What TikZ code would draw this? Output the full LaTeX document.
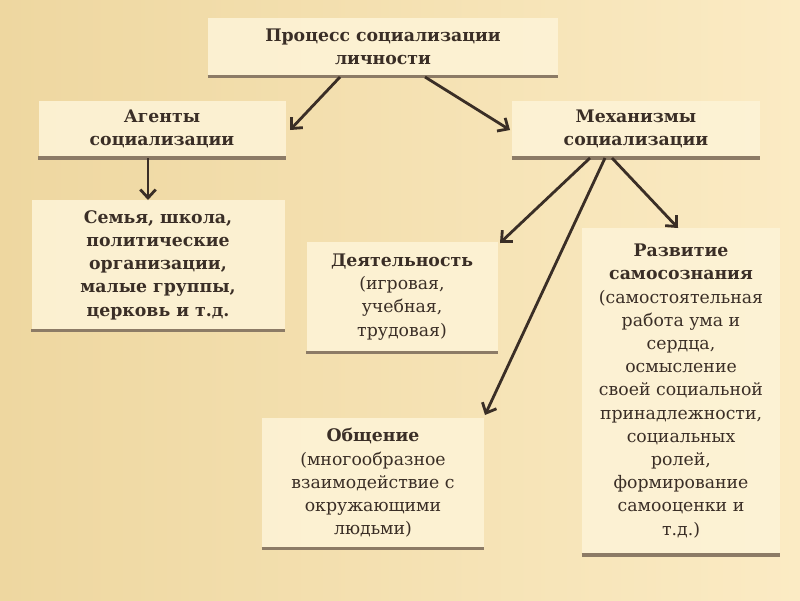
\documentclass[tikz,border=0pt]{standalone}
\usepackage{fontspec}
\setmainfont{DejaVu Serif}
\usetikzlibrary{arrows.meta}
\definecolor{paper}{HTML}{FDF3D6}
\definecolor{bgdark}{HTML}{EED7A0}
\definecolor{bglight}{HTML}{FBEBC4}
\definecolor{rule}{HTML}{8C7B66}
\definecolor{ink}{HTML}{3A2E26}
\tikzset{
  box/.style={fill=paper, fill opacity=0.9, text opacity=1, text=ink, align=center,
    inner sep=2pt, font=\fontsize{12.3}{16.5}\selectfont},
  link/.style={draw=ink, line width=2pt, -{Straight Barb[length=6pt,width=11pt]}},
}
\newcommand{\underrule}[1]{\draw[rule, line width=2.5pt] (#1.south west) -- (#1.south east);}
\begin{document}
\begin{tikzpicture}[x=0.025cm,y=-0.025cm]
  \shade[left color=bgdark, right color=bglight] (0,0) rectangle (800,600);
  \useasboundingbox (0,0) rectangle (800,600);

	\node[box, minimum width=350*0.025cm, minimum height=58*0.025cm] (proc) at (383,47) {\textbf{Процесс социализации}\\\textbf{личности}};
	\node[box, minimum width=247*0.025cm, minimum height=57*0.025cm] (agent) at (162,129) {\textbf{Агенты}\\\textbf{социализации}};
	\node[box, minimum width=248*0.025cm, minimum height=57*0.025cm] (mech) at (636,129) {\textbf{Механизмы}\\\textbf{социализации}};
	\node[box, minimum width=253*0.025cm, minimum height=130*0.025cm] (fam) at (158,265) {\textbf{Семья, школа,}\\\textbf{политические}\\\textbf{организации,}\\\textbf{малые группы,}\\\textbf{церковь и т.д.}};
	\node[box, minimum width=191*0.025cm, minimum height=110*0.025cm] (act) at (402,297) {\textbf{Деятельность}\\(игровая,\\учебная,\\трудовая)};
	\node[box, minimum width=198*0.025cm, minimum height=327*0.025cm] (self) at (681,391) {\textbf{Развитие}\\\textbf{самосознания}\\(самостоятельная\\работа ума и\\сердца,\\осмысление\\своей социальной\\принадлежности,\\социальных\\ролей,\\формирование\\самооценки и\\т.д.)};
	\node[box, minimum width=222*0.025cm, minimum height=130*0.025cm] (talk) at (373,483) {\textbf{Общение}\\(многообразное\\взаимодействие с\\окружающими\\людьми)};
	\foreach \n in {proc,agent,mech,fam,act,self,talk} {\underrule{\n}}

	\draw[link] (340,77) -- (290,130);
	\draw[link] (425,77) -- (510,130);
	\draw[link] (148,158) -- (148,200);
	\draw[link] (590,158) -- (500,243);
	\draw[link] (605,158) -- (485,415);
	\draw[link] (612,158) -- (678,228);
\end{tikzpicture}
\end{document}
